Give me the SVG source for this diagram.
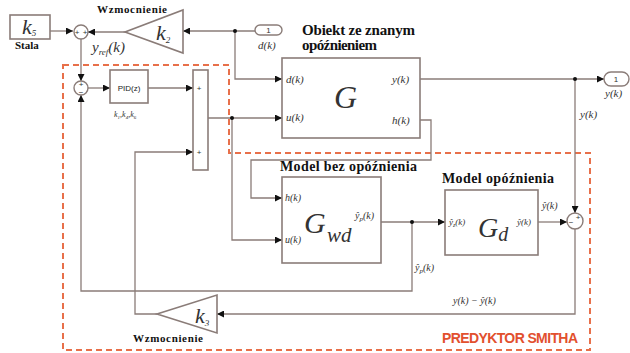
<svg xmlns="http://www.w3.org/2000/svg" width="630" height="353" viewBox="0 0 630 353">
<defs>
<marker id="ah" viewBox="0 0 10 10" refX="10" refY="5" markerWidth="8" markerHeight="7" markerUnits="userSpaceOnUse" orient="auto"><path d="M0,0 L10,5 L0,10 z" fill="#111"/></marker>
<style>
.ln{fill:none;stroke:#8a7c78;stroke-width:1.3}
.blk{fill:#fff;stroke:#8a7c78;stroke-width:1.6}
.s{font-family:"Liberation Serif",serif;fill:#333}
.it{font-style:italic}
.b{font-weight:bold;fill:#111}
.sg{font-family:"Liberation Sans",sans-serif;font-size:8px;fill:#333;text-anchor:middle}
.dot{fill:#111}
</style>
</defs>
<rect width="630" height="353" fill="#fff"/>

<!-- Smith predictor region -->
<path d="M63,65 H229 V153 H590 V350 H63 Z" fill="none" stroke="#e8704a" stroke-width="2" stroke-dasharray="6 4"/>
<text x="442" y="343" font-family="Liberation Sans,sans-serif" font-weight="bold" font-size="14" fill="#e2502e" textLength="136">PREDYKTOR SMITHA</text>

<g id="connectors">
<path class="ln" d="M50,31 H73" marker-end="url(#ah)"/>
<path class="ln" d="M125,32 H88" marker-end="url(#ah)"/>
<path class="ln" d="M255,31 H183" marker-end="url(#ah)"/>
<path class="ln" d="M235,31 V79 H282" marker-end="url(#ah)"/>
<path class="ln" d="M81,39 V81" marker-end="url(#ah)"/>
<path class="ln" d="M87,88 H110" marker-end="url(#ah)"/>
<path class="ln" d="M148,88 H193" marker-end="url(#ah)"/>
<path class="ln" d="M208,118 H282" marker-end="url(#ah)"/>
<path class="ln" d="M232,118 V240 H282" marker-end="url(#ah)"/>
<path class="ln" d="M420,120 H431 V160 H251 V198 H282" marker-end="url(#ah)"/>
<path class="ln" d="M420,79 H604" marker-end="url(#ah)"/>
<path class="ln" d="M575,79 V213" marker-end="url(#ah)"/>
<path class="ln" d="M381,222 H445" marker-end="url(#ah)"/>
<path class="ln" d="M412,222 V291 H81 V95" marker-end="url(#ah)"/>
<path class="ln" d="M538,222 H567" marker-end="url(#ah)"/>
<path class="ln" d="M575,229 V314 H217" marker-end="url(#ah)"/>
<path class="ln" d="M157,314 H135 V152 H193" marker-end="url(#ah)"/>
<circle class="dot" cx="235" cy="31" r="2"/>
<circle class="dot" cx="232" cy="118" r="2"/>
<circle class="dot" cx="575" cy="79" r="2"/>
<circle class="dot" cx="412" cy="222" r="2"/>
<text class="s it" x="92" y="52" font-size="15">y<tspan font-size="9" dy="3">ref</tspan><tspan dy="-3">(k)</tspan></text>
<text class="s it" x="580" y="118" font-size="11">y(k)</text>
<text class="s it" x="542" y="209" font-size="10">ŷ(k)</text>
<text class="s it" x="415" y="271" font-size="10">ŷ<tspan font-size="7" dy="2">p</tspan><tspan dy="-2">(k)</tspan></text>
<text class="s it" x="453" y="304" font-size="10">y(k) − ŷ(k)</text>
</g>

<g id="k5">
<rect class="blk" x="10" y="15" width="40" height="24"/>
<text class="s it" x="22" y="34" font-size="22" fill="#111">k<tspan font-size="9" dy="2">5</tspan></text>
<text class="s b" x="15" y="49" font-size="11">Stala</text>
</g>

<g id="sum1">
<circle cx="81" cy="32" r="7" fill="#fff" stroke="#8a7c78" stroke-width="1.4"/>
<text class="sg" x="77" y="35">+</text>
<text class="sg" x="85" y="35">+</text>
</g>

<g id="k2">
<path class="blk" d="M183,10 V53 L125,32 Z"/>
<text class="s it" x="156" y="40" font-size="22" fill="#111">k<tspan font-size="9" dy="3">2</tspan></text>
<text class="s b" x="97" y="13" font-size="11" textLength="70">Wzmocnienie</text>
</g>

<g id="dk-in">
<rect x="255" y="25" width="27" height="10" rx="5" fill="#fff" stroke="#8a7c78" stroke-width="1.4"/>
<text class="sg" x="268.5" y="33">1</text>
<text class="s it" x="258" y="49" font-size="11">d(k)</text>
</g>

<g id="sum2">
<circle cx="81" cy="88" r="7" fill="#fff" stroke="#8a7c78" stroke-width="1.4"/>
<text class="sg" x="81" y="87">+</text>
<text class="sg" x="81" y="95">−</text>
</g>

<g id="pid">
<rect class="blk" x="110" y="70" width="38" height="33"/>
<text x="129" y="91" font-family="Liberation Sans,sans-serif" font-size="8" fill="#222" text-anchor="middle">PID(z)</text>
<text class="s it" x="114" y="117" font-size="8">k<tspan font-size="5" dy="2">1</tspan><tspan dy="-2">,k</tspan><tspan font-size="5" dy="2">4</tspan><tspan dy="-2">,k</tspan><tspan font-size="5" dy="2">6</tspan></text>
</g>

<g id="sumv">
<rect class="blk" x="193" y="70" width="15" height="100"/>
<text class="sg" x="199" y="91" font-size="7">+</text>
<text class="sg" x="199" y="155" font-size="7">+</text>
</g>

<g id="G">
<rect class="blk" x="282" y="58" width="138" height="80"/>
<text class="s b" x="302" y="35" font-size="15" textLength="113">Obiekt ze znanym</text>
<text class="s b" x="302" y="50" font-size="15" textLength="75">opóźnieniem</text>
<text class="s it" x="286" y="83" font-size="11">d(k)</text>
<text class="s it" x="286" y="121" font-size="11">u(k)</text>
<text class="s it" x="392" y="83" font-size="11">y(k)</text>
<text class="s it" x="392" y="124" font-size="11">h(k)</text>
<text class="s it" x="334" y="108" font-size="32" fill="#111">G</text>
</g>

<g id="yk-out">
<rect x="604" y="72" width="25" height="14" rx="7" fill="#fff" stroke="#8a7c78" stroke-width="1.4"/>
<text class="sg" x="616" y="82">1</text>
<text class="s it" x="605" y="97" font-size="11">y(k)</text>
</g>

<g id="Gwd">
<rect class="blk" x="282" y="177" width="99" height="86"/>
<text class="s b" x="280" y="171" font-size="14" textLength="137">Model bez opóźnienia</text>
<text class="s it" x="285" y="201" font-size="10">h(k)</text>
<text class="s it" x="285" y="243" font-size="10">u(k)</text>
<text class="s it" x="355" y="219" font-size="10">ŷ<tspan font-size="7" dy="2">p</tspan><tspan dy="-2">(k)</tspan></text>
<text class="s it" x="304" y="233" font-size="30" fill="#111">G</text>
<text class="s it" x="327" y="242" font-size="21" fill="#111">wd</text>
</g>

<g id="Gd">
<rect class="blk" x="445" y="190" width="93" height="65"/>
<text class="s b" x="442" y="183" font-size="14" textLength="112">Model opóźnienia</text>
<text class="s it" x="449" y="225" font-size="9">ŷ<tspan font-size="6" dy="2">z</tspan><tspan dy="-2">(k)</tspan></text>
<text class="s it" x="517" y="225" font-size="9">ŷ(k)</text>
<text class="s it" x="478" y="237" font-size="28" fill="#111">G<tspan font-size="20" dy="4">d</tspan></text>
</g>

<g id="sum3">
<circle cx="575" cy="221" r="8" fill="#fff" stroke="#8a7c78" stroke-width="1.4"/>
<text class="sg" x="571" y="225">−</text>
<text class="sg" x="578" y="220">+</text>
</g>

<g id="k3">
<path class="blk" d="M217,295 V333 L157,314 Z"/>
<text class="s it" x="195" y="323" font-size="22" fill="#111">k<tspan font-size="9" dy="3">3</tspan></text>
<text class="s b" x="133" y="342" font-size="11" textLength="70">Wzmocnienie</text>
</g>
</svg>
